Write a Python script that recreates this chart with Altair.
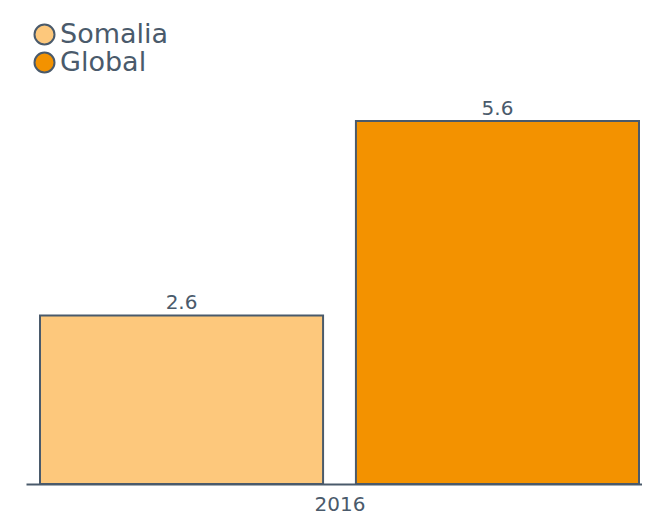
import altair as alt
import pandas as pd

years = ["2016", "2016"]
series = ["Somalia", "Global"]
values = [2.6, 5.6]
colors = ["#FDC87C", "#F39200"]

df = pd.DataFrame({"year": years, "series": series, "value": values})

text_color = "#4A5A6B"
font = "DejaVu Sans"

base = alt.Chart(df).encode(
    x=alt.X("year:N", title=None,
            scale=alt.Scale(paddingInner=0, paddingOuter=0),
            axis=alt.Axis(labelAngle=0, labelFontSize=20, labelColor=text_color,
                          labelFont=font, ticks=False, domainColor=text_color,
                          domainWidth=2, labelPadding=10, labelOffset=6)),
    xOffset=alt.XOffset("series:N", sort=series,
                        scale=alt.Scale(range=[14, 613], paddingInner=0.104, paddingOuter=0)),
)

bars = base.mark_bar(stroke="#4A5A6B", strokeWidth=2).encode(
    y=alt.Y("value:Q", axis=None, scale=alt.Scale(domain=[0, 5.6], nice=False)),
    color=alt.Color("series:N", sort=series,
                    scale=alt.Scale(domain=series, range=colors),
                    legend=alt.Legend(title=None, orient="none", legendX=5, legendY=-100,
                                      symbolType="circle", symbolSize=400,
                                      symbolStrokeColor=text_color, symbolStrokeWidth=2,
                                      labelFontSize=27, labelColor=text_color, labelFont=font,
                                      labelOffset=2, rowPadding=-1)),
)

labels = base.mark_text(dy=-12, fontSize=20, color=text_color, font=font).encode(
    y=alt.Y("value:Q"),
    text=alt.Text("value:Q", format=".1f"),
)

chart = (bars + labels).properties(
    width=616, height=363,
    padding={"left": 18, "top": 113, "right": 0, "bottom": 34},
    autosize=alt.AutoSizeParams(type="none"),
).configure_view(stroke=None)

chart.save("out.html", embed_options={"renderer": "svg", "actions": False})
